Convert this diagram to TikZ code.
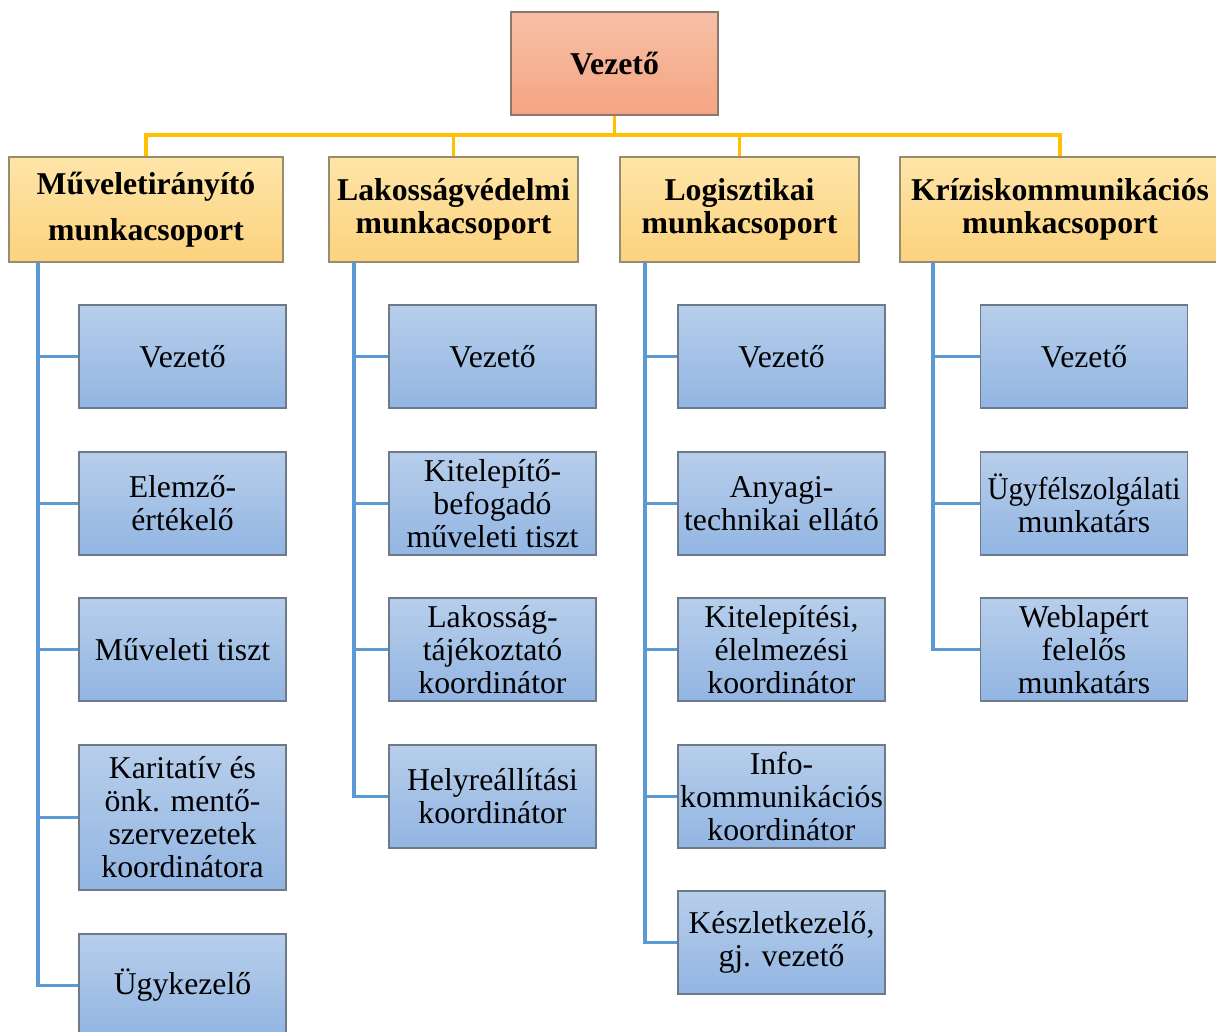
\documentclass[tikz,border=0pt]{standalone}
\usepackage{fontspec}
\setmainfont{Liberation Serif}
\begin{document}
\begin{tikzpicture}[x=0.75pt,y=-0.75pt,
  every node/.style={inner sep=0pt,align=center},
  basebox/.style={rectangle,line width=0.9pt,
    font=\fontsize{23.8}{24.75}\selectfont},
  topbox/.style={basebox,draw={rgb,255:red,140;green,120;blue,110},
    top color={rgb,255:red,246;green,192;blue,166},
    bottom color={rgb,255:red,245;green,164;blue,130},
    minimum width=155.25pt,minimum height=77.25pt,font=\fontsize{23.8}{24.75}\selectfont\bfseries},
  groupbox/.style={basebox,draw={rgb,255:red,150;green,140;blue,110},
    top color={rgb,255:red,254;green,229;blue,168},
    bottom color={rgb,255:red,252;green,210;blue,126},
    minimum height=78.75pt,font=\fontsize{23.8}{24.75}\selectfont\bfseries},
  rolebox/.style={basebox,draw={rgb,255:red,110;green,122;blue,138},
    top color={rgb,255:red,183;green,206;blue,235},
    bottom color={rgb,255:red,146;green,181;blue,226},
    minimum width=155.25pt,minimum height=77.25pt},
  busline/.style={draw={rgb,255:red,255;green,192;blue,0},line width=2.3pt},
  branch/.style={draw={rgb,255:red,91;green,155;blue,213},line width=2.3pt}]

\clip (0,0) rectangle (1216,1031);
\fill[white] (0,0) rectangle (1216,1031);

% head of the organisation
\node[topbox] (t) at (614.5,63.5) {Vezető};

% working groups
\node[groupbox,minimum width=205.5pt,font=\fontsize{23.8}{34.5}\selectfont\bfseries]
  (h1) at (146,209.5) {Műveletirányító\\munkacsoport};
\node[groupbox,minimum width=186.75pt] (h2) at (453.5,209.5) {Lakosságvédelmi\\munkacsoport};
\node[groupbox,minimum width=179.25pt] (h3) at (739.5,209.5) {Logisztikai\\munkacsoport};
\node[groupbox,minimum width=240pt] (h4) at (1060,209.5) {Kríziskommunikációs\\munkacsoport};

% roles of the first group
\node[rolebox] (a1) at (182.5,356.5) {Vezető};
\node[rolebox] (a2) at (182.5,503.5) {Elemző-\\értékelő};
\node[rolebox] (a3) at (182.5,649.5) {Műveleti tiszt};
\node[rolebox,minimum height=108.75pt] (a4) at (182.5,817.5) {Karitatív és\\önk. mentő-\\szervezetek\\koordinátora};
\node[rolebox] (a5) at (182.5,985.5) {Ügykezelő};

% roles of the second group
\node[rolebox] (b1) at (492.5,356.5) {Vezető};
\node[rolebox] (b2) at (492.5,503.5) {Kitelepítő-\\befogadó\\műveleti tiszt};
\node[rolebox] (b3) at (492.5,649.5) {Lakosság-\\tájékoztató\\koordinátor};
\node[rolebox] (b4) at (492.5,796.5) {Helyreállítási\\koordinátor};

% roles of the third group
\node[rolebox] (c1) at (781.5,356.5) {Vezető};
\node[rolebox] (c2) at (781.5,503.5) {Anyagi-\\technikai ellátó};
\node[rolebox] (c3) at (781.5,649.5) {Kitelepítési,\\élelmezési\\koordinátor};
\node[rolebox] (c4) at (781.5,796.5) {Info-\\kommunikációs\\koordinátor};
\node[rolebox] (c5) at (781.5,942.5) {Készletkezelő,\\gj. vezető};

% roles of the fourth group (the long word is set a little narrower to fit)
\node[rolebox] (d1) at (1084,356.5) {Vezető};
\node[rolebox] (d2) at (1084,503.5) {\scalebox{0.92}[1]{Ügyfélszolgálati}\\munkatárs};
\node[rolebox] (d3) at (1084,649.5) {Weblapért\\felelős\\munkatárs};

% bus from the head to the groups
\coordinate (bus) at (614.5,135);
\draw[busline] (t.south) -- (bus);
\draw[busline] (h1.north) |- (bus) -| (h4.north);
\draw[busline] (h2.north) -- (h2.north |- bus);
\draw[busline] (h3.north) -- (h3.north |- bus);

% spines under each group
\coordinate (s1) at (38,262);
\coordinate (s2) at (354,262);
\coordinate (s3) at (645,262);
\coordinate (s4) at (933,262);
\foreach \r in {a1,a2,a3,a4,a5} \draw[branch] (s1) |- (\r.west);
\foreach \r in {b1,b2,b3,b4} \draw[branch] (s2) |- (\r.west);
\foreach \r in {c1,c2,c3,c4,c5} \draw[branch] (s3) |- (\r.west);
\foreach \r in {d1,d2,d3} \draw[branch] (s4) |- (\r.west);
\end{tikzpicture}
\end{document}
